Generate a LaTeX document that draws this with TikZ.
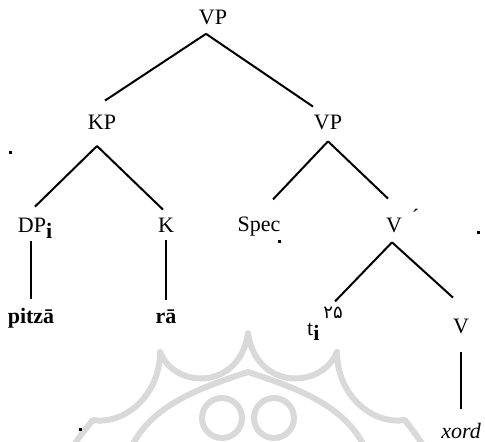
\documentclass[tikz,border=0pt]{standalone}
\usepackage{fontspec}
\setmainfont{Liberation Serif}
\newfontfamily\arabicfont[Script=Arabic]{DejaVu Sans}
\tikzset{
  font=\fontsize{11}{13.2}\selectfont,
  % category labels, placed by their baseline
  cat/.style={inner sep=0pt, outer sep=4.5pt, anchor=base},
  % words at the leaves
  word/.style={cat, font=\fontsize{11}{13.2}\selectfont\bfseries},
  % tree branches
  branch/.style={line width=1pt},
  % small ink specks
  speck/.style={fill=black},
  % faded ornament in the background
  ornament/.style={draw=black!15, line width=3pt, line join=round, line cap=round},
}

\begin{document}
\begin{tikzpicture}[x=0.5pt, y=-0.5pt]
  \useasboundingbox (0,0) rectangle (485,442);

  % background ornament
  \begin{scope}
    \clip (0,0) rectangle (485,442);
    \draw[ornament] (60,470) .. controls (75,440) and (85,430) .. (93,420)
      .. controls (125,425) and (160,395) .. (160,352)
      .. controls (175,390) and (240,390) .. (248,333)
      .. controls (256,390) and (321,390) .. (337,352)
      .. controls (337,395) and (372,425) .. (405,420)
      .. controls (412,430) and (422,440) .. (436,470);
    \draw[ornament] (222,418) circle [radius=20];
    \draw[ornament] (274,418) circle [radius=20];
    \draw[ornament] (130,450) .. controls (150,405) and (200,388) .. (248,372)
      .. controls (296,388) and (346,405) .. (366,450);
  \end{scope}

  % categories
  \node[cat] (vp) at (213,24.5) {VP};
  \node[cat] (kp) at (102,130) {KP};
  \node[cat] (vpp) at (328,130) {VP};
  \node[cat] (dp) at (35,233) {DP\raisebox{-.5ex}{\textbf{i}}};
  \node[cat] (k) at (166,233) {K};
  \node[cat] (spec) at (259,232) {Spec};
  \node[cat] (vbar) at (394,233) {V\rlap{\hspace{5pt}\smash{\raisebox{4pt}{´}}}};
  \node[cat] (trace) at (325,335)
    {t\raisebox{-.5ex}{\textbf{i}}\hspace{2pt}\raisebox{8.5pt}{\arabicfont\small ۲۵}};
  \node[cat] (v) at (461,333) {V};

  % words
  \node[word] (pitza) at (31,323) {pitzā};
  \node[word] (ra) at (166,323) {rā};
  \node[cat, font=\fontsize{11}{13.2}\selectfont\itshape] (xord) at (461,438) {xord};

  % branches
  \draw[branch] ([xshift=-3.5pt]vp.south) -- ([shift={(1.5pt,3pt)}]kp.north);
  \draw[branch] ([xshift=-3.5pt]vp.south) -- ([xshift=-7.5pt]vpp.north);
  \draw[branch] ([shift={(-2.5pt,-3.5pt)}]kp.south) -- ([yshift=1.5pt]dp.north);
  \draw[branch] ([shift={(-2.5pt,-3.5pt)}]kp.south) -- ([xshift=-1.5pt]k.north);
  \draw[branch] ([yshift=-1pt]vpp.south) -- ([shift={(7pt,4.5pt)}]spec.north);
  \draw[branch] ([yshift=-1pt]vpp.south) -- ([shift={(-3pt,5.5pt)}]vbar.north);
  \draw[branch] ([xshift=-1pt]vbar.south) -- ([shift={(5pt,-2pt)}]trace.north);
  \draw[branch] ([xshift=-1pt]vbar.south) -- ([shift={(-4pt,6pt)}]v.north);
  \draw[branch] ([yshift=3pt]dp.south -| pitza.north) -- (pitza.north);
  \draw[branch] ([yshift=1pt]k.south) -- (ra.north);
  \draw[branch] ([yshift=-5pt]v.south) -- ([yshift=2.5pt]xord.north);

  % specks
  \fill[speck] (8.5,151.5) rectangle ++(3,3);
  \fill[speck] (277.5,240.5) rectangle ++(3,3);
  \fill[speck] (476.5,231.5) rectangle ++(3,3);
  \fill[speck] (78.5,427.5) rectangle ++(3,3);
\end{tikzpicture}
\end{document}
